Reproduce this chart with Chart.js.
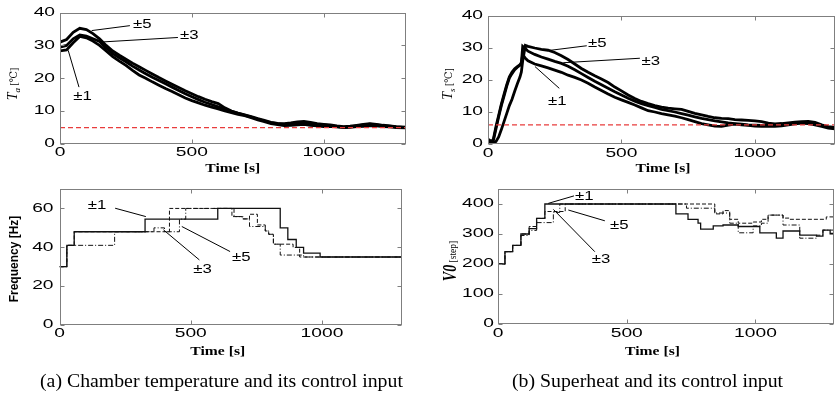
<!DOCTYPE html>
<html><head><meta charset="utf-8">
<script src="https://cdn.jsdelivr.net/npm/chart.js@4.4.0/dist/chart.umd.min.js"></script>
<style>
html,body{margin:0;padding:0;background:#fff;}
#wrap{position:relative;width:840px;height:395px;overflow:hidden;background:#fff;}
canvas{position:absolute;left:0;top:0;}
.cap{position:absolute;font-family:"Liberation Serif","Times New Roman",serif;font-size:18px;line-height:20px;white-space:nowrap;color:#000;transform:scaleX(1.1);transform-origin:0 0;}
</style>
</head><body>
<div id="wrap">
<canvas id="cTa" width="840" height="395"></canvas>
<canvas id="cTs" width="840" height="395"></canvas>
<canvas id="cFr" width="840" height="395"></canvas>
<canvas id="cV0" width="840" height="395"></canvas>
<div class="cap" style="left:40px;top:371px;">(a) Chamber temperature and its control input</div>
<div class="cap" style="left:512px;top:371px;">(b) Superheat and its control input</div>
</div>
<script>
// ---------- data ----------
const seriesLabels = ['±1', '±3', '±5'];
const xTickVals = [0, 500, 1000];
const taTickVals = [0, 10, 20, 30, 40];
const tsTickVals = [0, 10, 20, 30, 40];
const freqTickVals = [0, 20, 40, 60];
const v0TickVals = [0, 100, 200, 300, 400];

// chamber temperature Ta [°C]
const timeTa = [0,25,50,75,100,125,150,175,200,225,250,275,300,325,350,375,400,425,450,475,500,525,550,575,600,625,650,675,700,725,750,775,800,825,850,875,900,925,950,975,1000,1025,1050,1075,1100,1125,1150,1175,1200,1225,1250,1275,1310];
const ta1 = [28.3,28.6,30.8,32.7,32.3,31.3,30.0,28.3,26.6,25.2,23.9,22.4,21.0,20.0,18.9,17.9,16.9,16.0,15.0,14.0,13.2,12.5,11.8,11.2,10.7,10.1,9.5,9.0,8.6,8.0,7.3,6.8,6.2,5.9,5.6,5.7,5.8,6.0,5.7,5.5,5.3,5.4,5.2,5.0,5.1,5.3,5.4,5.6,5.5,5.3,5.2,5.0,4.9];
const ta3 = [29.5,30.0,32.0,33.2,32.8,32.0,31.2,29.2,27.5,26.2,25.0,23.7,22.5,21.4,20.3,19.3,18.3,17.3,16.3,15.3,14.4,13.5,12.7,12.0,11.3,10.6,9.9,9.3,8.8,8.2,7.6,7.0,6.5,6.2,6.0,6.1,6.4,6.6,6.3,6.0,5.8,5.6,5.3,5.1,5.2,5.5,5.8,6.0,5.8,5.6,5.4,5.2,5.0];
const ta5 = [31.0,31.8,34.0,35.2,34.8,33.6,32.0,30.0,28.3,27.0,25.8,24.6,23.5,22.4,21.3,20.2,19.2,18.2,17.2,16.2,15.3,14.4,13.6,12.9,12.3,11.0,10.0,9.4,8.9,8.3,7.7,7.2,6.6,6.3,6.2,6.4,6.7,6.9,6.6,6.2,6.0,5.8,5.5,5.3,5.4,5.7,6.0,6.2,6.0,5.7,5.5,5.3,5.1];
const taSetTime = [0, 1310];
const taSetValue = [5, 5];

// superheat Ts [°C]
const timeTs = [0,10,20,30,40,50,60,70,80,90,100,110,120,125,130,140,150,175,200,225,250,275,300,325,350,375,400,425,450,475,500,525,550,575,600,625,650,675,700,725,750,775,800,825,850,875,900,925,950,975,1000,1025,1050,1075,1100,1125,1150,1175,1200,1225,1250,1275,1300];
const ts1 = [1.0,0.5,1.5,5.5,9.0,12.5,15.5,18.5,21.0,22.5,23.5,24.2,24.8,25.5,28.0,26.8,26.0,25.0,24.4,23.8,23.1,22.4,21.5,20.8,20.0,19.0,17.8,16.7,15.6,14.6,13.8,13.0,12.2,11.3,10.4,10.0,9.5,9.1,8.7,8.2,7.6,7.0,6.4,6.0,5.6,5.5,5.9,6.2,6.0,5.8,5.6,5.5,5.6,5.5,5.7,6.0,6.3,6.5,6.4,6.0,5.5,5.0,4.7];
const ts3 = [0.8,0.3,1.0,4.8,8.5,12.0,15.0,18.0,20.6,22.0,23.2,24.0,24.6,25.2,30.5,29.8,29.0,28.0,27.2,26.5,25.8,25.2,24.3,23.2,22.0,20.8,19.6,18.5,17.4,16.3,15.3,14.3,13.4,12.6,12.0,11.4,10.8,10.4,10.0,9.5,9.0,8.5,8.0,7.6,7.2,6.9,6.6,6.4,6.2,6.0,5.9,5.8,5.9,6.0,6.1,6.3,6.5,6.7,6.5,6.2,5.8,5.4,5.2];
const ts5 = [1.5,1.0,0.3,0.8,2.2,4.5,7.0,9.5,12.0,14.0,16.5,18.8,21.0,22.5,26.0,30.8,30.5,30.0,29.6,29.3,28.6,27.6,26.4,25.0,23.6,22.4,21.3,20.3,19.2,17.8,16.6,15.3,14.2,13.3,12.6,12.0,11.5,11.2,11.0,10.8,10.2,9.6,9.1,8.6,8.2,8.0,7.9,7.6,7.5,7.4,7.2,7.0,6.5,6.3,6.4,6.6,6.8,7.0,7.1,6.8,6.0,5.3,5.0];
const tsSetTime = [0, 1300];
const tsSetValue = [6, 6];

// compressor frequency [Hz] (zero-order hold steps)
const fr1Time = [0,28,56,326,603,841,870,902,930,993,1305];
const fr1 = [30,41,48,54.5,60,50,44,40,37,35,35];
const fr3Time = [0,28,210,360,400,457,481,665,700,724,784,797,815,841,930,1305];
const fr3 = [30,41,48,50,48,54.5,60,55.8,54.6,50.7,48.4,46.7,41.6,36,35,35];
const fr5Time = [0,28,56,419,657,696,724,754,784,797,815,890,915,1305];
const fr5 = [30,41,48,60,55.8,54.6,57,51.5,48.4,46.7,41.6,39.9,35,35];

// valve opening V0 [step]
const v1Time = [0,27,57,89,121,150,182,691,738,777,787,836,874,933,1017,1081,1107,1172,1237,1262,1290,1305];
const v1 = [200,241,262,300,318,352,400,367,349,336,316,327,330,325,304,286,310,296,293,313,302,302];
const v3Time = [0,27,57,89,121,150,215,240,732,842,900,933,991,1023,1049,1107,1172,1237,1262,1305];
const v3 = [200,241,262,295,312,338,372,400,386,370,336,304,327,336,363,330,286,296,313,313];
const v5Time = [0,27,57,89,121,150,182,261,842,874,900,933,991,1023,1049,1107,1133,1275,1305];
const v5 = [200,241,262,300,325,352,375,400,367,378,349,336,340,349,363,353,349,357,357];

// ---------- helpers ----------
function pts(xs, ys) { return xs.map((x, i) => ({ x: x, y: ys[i] })); }

function stretchText(ctx, text, x, y, sx, align) {
  const w = ctx.measureText(text).width * sx;
  let x0 = x;
  if (align === 'center') x0 = x - w / 2;
  else if (align === 'right') x0 = x - w;
  ctx.save();
  ctx.translate(x0, y);
  ctx.scale(sx, 1);
  ctx.textAlign = 'left';
  ctx.fillText(text, 0, 0);
  ctx.restore();
}

function drawRotated(ctx, cx, cy, pieces) {
  ctx.save();
  ctx.textBaseline = 'alphabetic';
  ctx.textAlign = 'left';
  let total = 0;
  const ws = pieces.map(p => { ctx.font = p.font; const w = ctx.measureText(p.text).width; total += w; return w; });
  ctx.translate(cx, cy);
  ctx.rotate(-Math.PI / 2);
  let x = -total / 2;
  pieces.forEach((p, i) => {
    ctx.save();
    ctx.font = p.font;
    ctx.translate(x, p.dy || 0);
    ctx.scale(1, p.sy || 1);
    ctx.fillText(p.text, 0, 0);
    ctx.restore();
    x += ws[i];
  });
  ctx.restore();
}

const TICK_FONT = '12px "Liberation Sans", Arial, sans-serif';
const SERIF = '"Liberation Serif", "DejaVu Serif", serif';

const DECO = {
  cTa: { xTicks: xTickVals, yTicks: taTickVals, xGap: 8.5, yGap: 5, titleY: 169, titleDx: 0,
    yTitleX: 16.5, yTitleY: 84,
    yTitle: [{ text: 'T', font: 'italic 14px ' + SERIF }, { text: 'a', font: 'italic 9px ' + SERIF, dy: 3 }, { text: ' [℃]', font: '10px ' + SERIF }],
    notes: [
      { text: seriesLabels[2], from: [120, 34.5], to: [265, 36], at: [277, 36.4] },
      { text: seriesLabels[1], from: [152, 31], to: [447, 32.4], at: [455, 33] },
      { text: seriesLabels[0], from: [31, 28.5], to: [72, 17.3], at: [50, 14.5] }
    ] },
  cTs: { xTicks: xTickVals, yTicks: tsTickVals, xGap: 10, yGap: 5, titleY: 169, titleDx: 1.5,
    yTitleX: 452, yTitleY: 84,
    yTitle: [{ text: 'T', font: 'italic 14px ' + SERIF }, { text: 's', font: 'italic 9px ' + SERIF, dy: 3 }, { text: ' [℃]', font: '10px ' + SERIF }],
    notes: [
      { text: seriesLabels[2], from: [226, 29.2], to: [370, 30.7], at: [375, 31.2] },
      { text: seriesLabels[1], from: [282, 25.4], to: [569, 26.8], at: [575, 25.7] },
      { text: seriesLabels[0], from: [176, 24.2], to: [267, 17.4], at: [225, 13.2] }
    ] },
  cFr: { xTicks: xTickVals, yTicks: freqTickVals, xGap: 9, yGap: 6, titleY: 352, titleDx: -13,
    yTitleX: 17.5, yTitleY: 259,
    yTitle: [{ text: 'Frequency [Hz]', font: 'bold 12px "Liberation Sans", Arial, sans-serif' }],
    notes: [
      { text: seriesLabels[0], from: [212, 60.1], to: [329, 55.8], at: [108, 61.3] },
      { text: seriesLabels[2], from: [466, 50.7], to: [650, 37.8], at: [657, 34.9] },
      { text: seriesLabels[1], from: [396, 49], to: [533, 33.5], at: [510, 28.7] }
    ] },
  cV0: { xTicks: xTickVals, yTicks: v0TickVals, xGap: 10, yGap: 4, titleY: 352, titleDx: -13.5,
    yTitleX: 456, yTitleY: 261,
    yTitle: [{ text: 'V0', font: 'bold italic 14px ' + SERIF, sy: 1.35 }, { text: ' [step]', font: '9.5px ' + SERIF }],
    notes: [
      { text: seriesLabels[0], from: [195, 402], to: [295, 427], at: [299, 424] },
      { text: seriesLabels[2], from: [273, 380], to: [415, 344], at: [435, 328] },
      { text: seriesLabels[1], from: [215, 382], to: [376, 241], at: [364, 213] }
    ] }
};

const decoPlugin = {
  id: 'deco',
  afterDraw(chart) {
    const o = DECO[chart.canvas.id];
    const ctx = chart.ctx, a = chart.chartArea, xs = chart.scales.x, ys = chart.scales.y;
    ctx.save();
    ctx.strokeStyle = '#7f7f7f'; ctx.lineWidth = 1;
    const L = Math.round(a.left) + 0.5, R = Math.round(a.right) - 0.5, T = Math.round(a.top) + 0.5, B = Math.round(a.bottom) - 0.5;
    ctx.strokeRect(L, T, R - L, B - T);
    ctx.beginPath();
    o.xTicks.forEach(v => { const p = Math.round(xs.getPixelForValue(v)) + 0.5; ctx.moveTo(p, B); ctx.lineTo(p, B - 4); ctx.moveTo(p, T); ctx.lineTo(p, T + 4); });
    o.yTicks.forEach(v => { const p = Math.round(ys.getPixelForValue(v)) + 0.5; ctx.moveTo(L, p); ctx.lineTo(L + 4, p); ctx.moveTo(R, p); ctx.lineTo(R - 4, p); });
    ctx.stroke();
    ctx.fillStyle = '#000';
    ctx.font = TICK_FONT; ctx.textBaseline = 'middle';
    o.xTicks.forEach(v => stretchText(ctx, String(v), xs.getPixelForValue(v), a.bottom + o.xGap, 1.6, 'center'));
    o.yTicks.forEach(v => stretchText(ctx, String(v), a.left - o.yGap, ys.getPixelForValue(v), 1.6, 'right'));
    ctx.font = 'bold 12.5px ' + SERIF;
    stretchText(ctx, 'Time [s]', (a.left + a.right) / 2 + o.titleDx, o.titleY, 1.25, 'center');
    drawRotated(ctx, o.yTitleX, o.yTitleY, o.yTitle);
    ctx.strokeStyle = '#000'; ctx.lineWidth = 1;
    ctx.font = TICK_FONT; ctx.textBaseline = 'middle';
    o.notes.forEach(n => {
      ctx.beginPath();
      ctx.moveTo(xs.getPixelForValue(n.from[0]), ys.getPixelForValue(n.from[1]));
      ctx.lineTo(xs.getPixelForValue(n.to[0]), ys.getPixelForValue(n.to[1]));
      ctx.stroke();
      stretchText(ctx, n.text, xs.getPixelForValue(n.at[0]), ys.getPixelForValue(n.at[1]), 1.4, 'left');
    });
    ctx.restore();
  }
};

function makeChart(id, area, xMax, yMax, datasets) {
  return new Chart(document.getElementById(id), {
    type: 'line',
    data: { datasets: datasets },
    options: {
      responsive: false, animation: false, events: [],
      layout: { padding: { left: area[0], top: area[1], right: 840 - area[2], bottom: 395 - area[3] } },
      plugins: { legend: { display: false }, tooltip: { enabled: false } },
      elements: { point: { radius: 0 }, line: { tension: 0 } },
      scales: {
        x: { type: 'linear', min: 0, max: xMax, display: false },
        y: { type: 'linear', min: 0, max: yMax, display: false }
      }
    },
    plugins: [decoPlugin]
  });
}

function noisy(label, xs, ys) {
  return { label: label, data: pts(xs, ys), borderColor: '#000', borderWidth: 2.8, fill: false, order: 1 };
}
function setLine(xs, ys) {
  return { label: 'set', data: pts(xs, ys), borderColor: '#e83c3c', borderWidth: 1.2, borderDash: [5, 3], fill: false, order: 0 };
}
function step(label, xs, ys, dash, w) {
  return { label: label, data: pts(xs, ys), borderColor: '#111', borderWidth: w, borderDash: dash, stepped: true, fill: false };
}

makeChart('cTa', [60, 12.5, 405.5, 144], 1310, 40, [
  noisy(seriesLabels[0], timeTa, ta1), noisy(seriesLabels[1], timeTa, ta3), noisy(seriesLabels[2], timeTa, ta5),
  setLine(taSetTime, taSetValue)
]);
makeChart('cTs', [488, 16, 835, 144], 1300, 40, [
  noisy(seriesLabels[0], timeTs, ts1), noisy(seriesLabels[1], timeTs, ts3), noisy(seriesLabels[2], timeTs, ts5),
  setLine(tsSetTime, tsSetValue)
]);
makeChart('cFr', [59.5, 189, 402, 325], 1305, 70, [
  step(seriesLabels[0], fr1Time, fr1, [], 1.3),
  step(seriesLabels[1], fr3Time, fr3, [5, 2, 1, 2], 1),
  step(seriesLabels[2], fr5Time, fr5, [4, 2], 1)
]);
makeChart('cV0', [498, 189, 834, 324], 1305, 450, [
  step(seriesLabels[0], v1Time, v1, [], 1.3),
  step(seriesLabels[1], v3Time, v3, [5, 2, 1, 2], 1),
  step(seriesLabels[2], v5Time, v5, [4, 2], 1)
]);
</script>
</body></html>
